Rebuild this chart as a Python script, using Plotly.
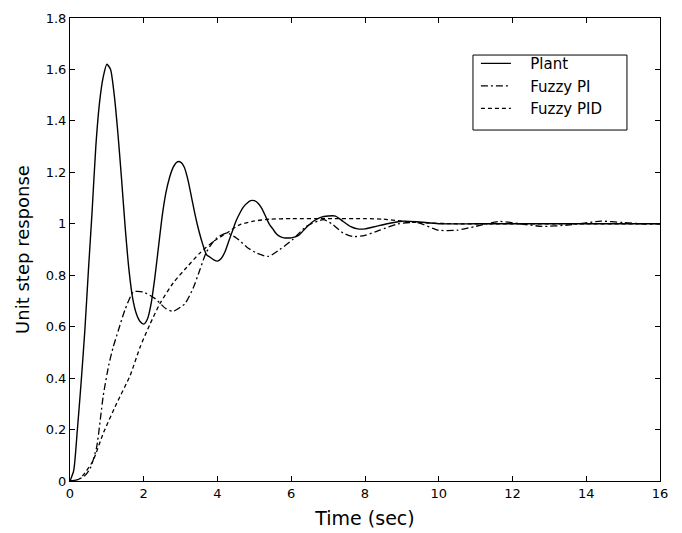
import plotly.graph_objects as go

# Plant response
plant_t = [0, 0.1, 0.2, 0.3, 0.4, 0.5, 0.6, 0.7, 0.8, 0.9, 1.0, 1.1, 1.2, 1.3, 1.4, 1.5, 1.6, 1.7, 1.8, 1.9,
           2.0, 2.1, 2.2, 2.3, 2.4, 2.5, 2.6, 2.7, 2.8, 2.9, 3.0, 3.1, 3.2, 3.3, 3.4, 3.5, 3.6, 3.7, 3.8, 3.9,
           4.0, 4.1, 4.2, 4.3, 4.4, 4.5, 4.6, 4.7, 4.8, 4.9, 5.0, 5.1, 5.2, 5.3, 5.4, 5.5, 5.6, 5.7, 5.8, 5.9,
           6.0, 6.2, 6.4, 6.6, 6.8, 7.0, 7.2, 7.4, 7.6, 7.8, 8.0, 8.3, 8.6, 9.0, 9.4, 10.0, 11.0, 12.0, 13.0,
           14.0, 15.0, 16.0]
plant_y = [0, 0.04, 0.2, 0.38, 0.58, 0.82, 1.05, 1.3, 1.47, 1.57, 1.62, 1.6, 1.5, 1.35, 1.17, 0.98, 0.82, 0.71, 0.65, 0.62,
           0.61, 0.63, 0.69, 0.79, 0.91, 1.03, 1.12, 1.18, 1.22, 1.24, 1.24, 1.22, 1.17, 1.1, 1.03, 0.97, 0.92, 0.88, 0.87, 0.86,
           0.855, 0.865, 0.89, 0.93, 0.97, 1.01, 1.04, 1.065, 1.08, 1.09, 1.09, 1.08, 1.06, 1.03, 1.0, 0.98, 0.96, 0.95, 0.945, 0.945,
           0.945, 0.955, 0.985, 1.01, 1.025, 1.03, 1.03, 1.01, 0.99, 0.98, 0.98, 0.99, 1.0, 1.01, 1.008, 1.0, 1.0, 1.0, 1.0,
           1.0, 1.0, 1.0]

# Fuzzy PI response
pi_t = [0, 0.2, 0.4, 0.55, 0.72, 0.9, 1.05, 1.17, 1.31, 1.49, 1.72, 1.98, 2.3, 2.6, 2.8, 3.12, 3.34, 3.52, 3.7, 3.97,
        4.25, 4.52, 4.79, 5.06, 5.38, 5.69, 6.05, 6.41, 6.87, 7.1, 7.41, 7.68, 8.0, 8.4, 8.9, 9.4, 10.0, 10.5,
        11.0, 11.65, 12.2, 12.8, 13.5, 14.4, 15.0, 15.5, 16.0]
pi_y = [0, 0.005, 0.02, 0.05, 0.13, 0.33, 0.45, 0.52, 0.585, 0.665, 0.735, 0.735, 0.71, 0.67, 0.66, 0.69, 0.75, 0.82, 0.89, 0.944,
        0.964, 0.944, 0.91, 0.886, 0.873, 0.9, 0.94, 0.99, 1.016, 1.0, 0.964, 0.95, 0.955, 0.975, 1.0, 1.005, 0.975, 0.975,
        0.99, 1.009, 1.0, 0.99, 0.995, 1.01, 1.005, 1.0, 1.0]

# Fuzzy PID response
pid_t = [0, 0.1, 0.27, 0.45, 0.63, 0.9, 1.26, 1.63, 1.9, 2.17, 2.44, 2.8, 3.16, 3.52, 3.88, 4.25, 4.6, 4.97,
         5.42, 6.0, 7.0, 8.0, 8.5, 9.0, 9.5, 10.5, 12.0, 14.0, 16.0]
pid_y = [0, 0.0, 0.01, 0.04, 0.08, 0.185, 0.30, 0.41, 0.52, 0.61, 0.69, 0.77, 0.83, 0.886, 0.93, 0.964, 0.996, 1.01,
         1.018, 1.02, 1.02, 1.02, 1.018, 1.01, 1.004, 1.0, 1.0, 1.0, 1.0]

x_ticks = [0, 2, 4, 6, 8, 10, 12, 14, 16]
y_ticks = [0, 0.2, 0.4, 0.6, 0.8, 1, 1.2, 1.4, 1.6, 1.8]

FONT = "DejaVu Sans, Arial, sans-serif"
PAD = "\u00a0\u00a0\u00a0"

fig = go.Figure()
fig.add_trace(go.Scatter(x=plant_t, y=plant_y, mode="lines", name=PAD + "Plant",
                         line=dict(color="black", width=1.4, shape="spline", smoothing=0.6)))
fig.add_trace(go.Scatter(x=pi_t, y=pi_y, mode="lines", name=PAD + "Fuzzy PI",
                         line=dict(color="black", width=1.3, dash="7px,3px,2px,3px", shape="spline", smoothing=0.6)))
fig.add_trace(go.Scatter(x=pid_t, y=pid_y, mode="lines", name=PAD + "Fuzzy PID",
                         line=dict(color="black", width=1.3, dash="4px,3px", shape="spline", smoothing=0.6)))

axis_common = dict(showline=True, linecolor="black", linewidth=1, mirror="ticks",
                   ticks="inside", ticklen=5, tickcolor="black", showgrid=False, zeroline=False,
                   automargin=False,
                   tickfont=dict(family=FONT, size=13, color="black"))

fig.update_layout(
    width=674, height=525,
    margin=dict(l=62, r=22, t=10, b=52),
    paper_bgcolor="white", plot_bgcolor="white",
    font=dict(family=FONT, color="black"),
    xaxis=dict(range=[0, 16], tickvals=x_ticks,
               title=dict(text="Time (sec)", font=dict(size=19), standoff=12), **axis_common),
    yaxis=dict(range=[0, 1.8], tickvals=y_ticks,
               title=dict(text="Unit step response", font=dict(size=18), standoff=11), **axis_common),
    legend=dict(x=0.688, y=0.937, xanchor="left", yanchor="top",
                bgcolor="rgba(0,0,0,0)", borderwidth=0,
                font=dict(family=FONT, size=15, color="black"), tracegroupgap=0),
    shapes=[dict(type="rect", xref="paper", yref="paper", x0=0.683, x1=0.944, y0=0.758, y1=0.920,
                 line=dict(color="black", width=1), fillcolor="white", layer="below")],
    showlegend=True,
)

fig.write_html("out.html")
